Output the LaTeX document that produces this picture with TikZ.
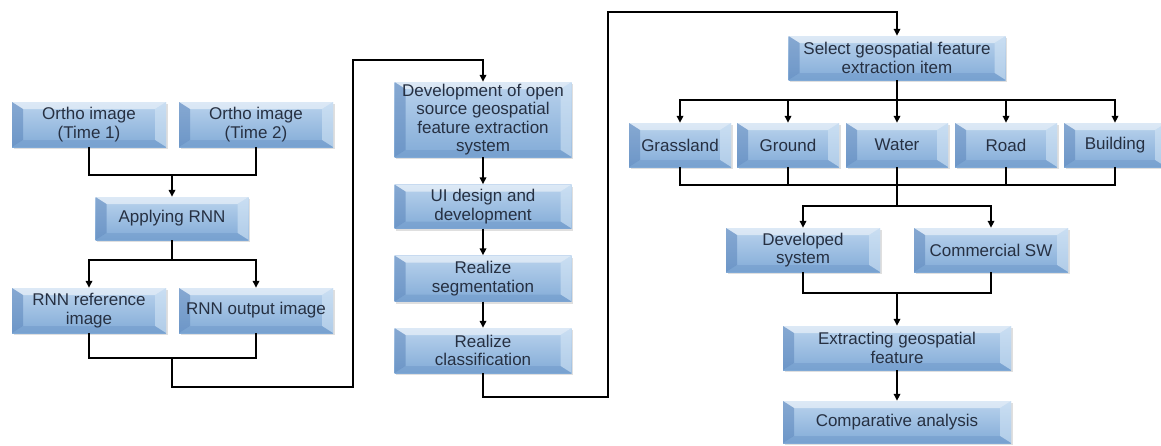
\documentclass[tikz,border=0pt]{standalone}
\usepackage{fontspec}
\setmainfont{Liberation Sans}
\usetikzlibrary{arrows.meta,shadows}
\definecolor{faceTop}{RGB}{186,211,237}
\definecolor{faceBot}{RGB}{130,171,215}
\definecolor{bvDark}{RGB}{92,134,188}
\definecolor{bvLight}{RGB}{215,232,247}
\definecolor{bvBot}{RGB}{108,150,200}
\definecolor{txtc}{RGB}{38,48,66}
\tikzset{
  bx/.style={rectangle, inner sep=0pt, align=center, text=txtc,
    font=\fontsize{17}{18.5}\selectfont,
    top color=faceTop, bottom color=faceBot,
    drop shadow={shadow xshift=1.5pt, shadow yshift=-2pt, opacity=0.25},
    path picture={
      \fill[white, opacity=0.5] (path picture bounding box.north west) -- (path picture bounding box.north east)
        -- ([xshift=-11pt,yshift=-7pt]path picture bounding box.north east) -- ([xshift=11pt,yshift=-7pt]path picture bounding box.north west) -- cycle;
      \fill[bvDark, opacity=0.55] (path picture bounding box.north west) -- ([xshift=11pt,yshift=-7pt]path picture bounding box.north west)
        -- ([xshift=11pt,yshift=7pt]path picture bounding box.south west) -- (path picture bounding box.south west) -- cycle;
      \fill[bvLight, opacity=0.55] (path picture bounding box.north east) -- ([xshift=-11pt,yshift=-7pt]path picture bounding box.north east)
        -- ([xshift=-11pt,yshift=7pt]path picture bounding box.south east) -- (path picture bounding box.south east) -- cycle;
      \fill[bvBot, opacity=0.45] (path picture bounding box.south west) -- ([xshift=11pt,yshift=7pt]path picture bounding box.south west)
        -- ([xshift=-11pt,yshift=7pt]path picture bounding box.south east) -- (path picture bounding box.south east) -- cycle;
    }},
  ln/.style={line width=1.6pt, black},
  arr/.style={ln, -{Triangle[length=7pt,width=6.5pt]}}
}
\begin{document}
\begin{tikzpicture}[x=1pt,y=-1pt]
\useasboundingbox (0,0) rectangle (1161,445);
% left column
\node[bx, minimum width=154, minimum height=45] (o1) at (89,124.5) {Ortho image\\(Time 1)};
\node[bx, minimum width=154, minimum height=45] (o2) at (256,124.5) {Ortho image\\(Time 2)};
\node[bx, minimum width=153, minimum height=43] (app) at (172,218.5) {Applying RNN};
\node[bx, minimum width=154, minimum height=45] (rref) at (89,310.5) {RNN reference\\image};
\node[bx, minimum width=154, minimum height=45] (rout) at (256,310.5) {RNN output image};
% middle column
\node[bx, minimum width=177, minimum height=75] (dev) at (483,119.5) {Development of open\\source geospatial\\feature extraction\\system};
\node[bx, minimum width=177, minimum height=44] (ui) at (483,206.5) {UI design and\\development};
\node[bx, minimum width=177, minimum height=46] (seg) at (483,278.5) {Realize\\segmentation};
\node[bx, minimum width=177, minimum height=45] (cls) at (483,350.5) {Realize\\classification};
% right part
\node[bx, minimum width=217, minimum height=44] (sel) at (897,58) {Select geospatial feature\\extraction item};
\node[bx, minimum width=102, minimum height=44] (gra) at (680,145) {Grassland};
\node[bx, minimum width=102, minimum height=44] (gro) at (788,145) {Ground};
\node[bx, minimum width=102, minimum height=44] (wat) at (897,145) {Water};
\node[bx, minimum width=102, minimum height=44] (roa) at (1006,145) {Road};
\node[bx, minimum width=102, minimum height=44] (bui) at (1115,145) {Building};
\node[bx, minimum width=154, minimum height=44] (dsy) at (803,250) {Developed\\system};
\node[bx, minimum width=154, minimum height=44] (com) at (991,250) {Commercial SW};
\node[bx, minimum width=228, minimum height=44] (ext) at (897,348) {Extracting geospatial\\feature};
\node[bx, minimum width=228, minimum height=42] (cmp) at (897,422) {Comparative analysis};
% junction coordinates
\coordinate (j1) at (172,175);
\coordinate (j2) at (172,260);
\coordinate (j3) at (172,358);
\coordinate (c1) at (172,387);
\coordinate (c2) at (353,387);
\coordinate (c3) at (353,60);
\coordinate (d1) at (483,397);
\coordinate (d2) at (608,397);
\coordinate (d3) at (608,12);
\coordinate (j5) at (897,100);
\coordinate (j6) at (897,185);
\coordinate (j7) at (897,206);
\coordinate (j8) at (897,293);
% connectors left
\draw[ln] (o1.south) |- (j1) -| (o2.south);
\draw[arr] (j1) -- (app.north);
\draw[ln] (app.south) -- (j2);
\draw[arr] (j2) -| (rref.north);
\draw[arr] (j2) -| (rout.north);
\draw[ln] (rref.south) |- (j3) -| (rout.south);
\draw[arr] (j3) -- (c1) -- (c2) -- (c3) -| (dev.north);
% middle
\draw[arr] (dev) -- (ui);
\draw[arr] (ui) -- (seg);
\draw[arr] (seg) -- (cls);
\draw[arr] (cls.south) -- (d1) -- (d2) -- (d3) -| (sel.north);
% right
\draw[ln] (sel.south) -- (j5);
\draw[arr] (j5) -| (gra.north);
\draw[arr] (j5) -| (gro.north);
\draw[arr] (j5) -- (wat.north);
\draw[arr] (j5) -| (roa.north);
\draw[arr] (j5) -| (bui.north);
\draw[ln] (gra.south) |- (j6) -| (bui.south);
\draw[ln] (gro.south) |- (j6);
\draw[ln] (roa.south) |- (j6);
\draw[ln] (wat.south) -- (j6) -- (j7);
\draw[arr] (j7) -| (dsy.north);
\draw[arr] (j7) -| (com.north);
\draw[ln] (dsy.south) |- (j8) -| (com.south);
\draw[arr] (j8) -- (ext.north);
\draw[arr] (ext) -- (cmp);
\end{tikzpicture}
\end{document}
